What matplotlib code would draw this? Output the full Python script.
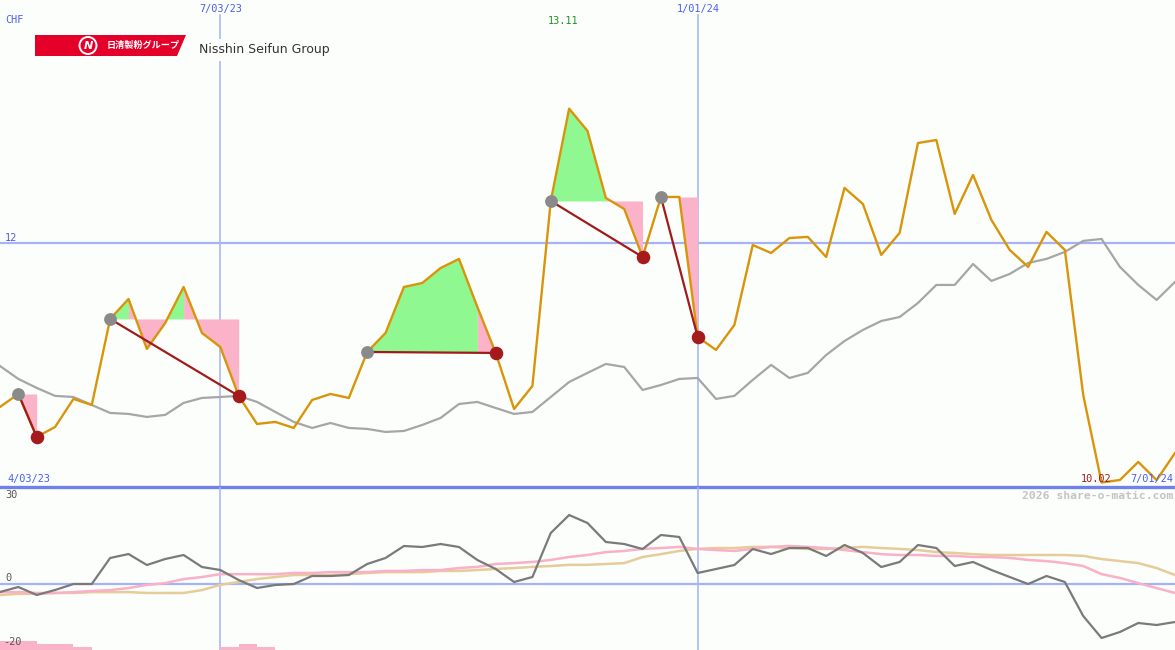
import matplotlib
matplotlib.use("Agg")
import matplotlib.pyplot as plt
from matplotlib.patches import Polygon, Ellipse

# ---------------- data ----------------
week_labels = ["4/03/23", "7/03/23", "1/01/24", "7/01/24"]
marker_weeks = [12, 38]          # vertical date lines (week index)
currency = "CHF"
level_main = 12
max_label = "13.11"
min_label = "10.02"

price = [10.645, 10.752, 10.397, 10.479, 10.711, 10.661, 11.372, 11.537, 11.124, 11.339,
         11.636, 11.256, 11.140, 10.736, 10.504, 10.521, 10.471, 10.702, 10.752, 10.719,
         11.099, 11.256, 11.636, 11.669, 11.793, 11.868, 11.471, 11.091, 10.628, 10.818,
         12.347, 13.110, 12.926, 12.372, 12.281, 11.884, 12.380, 12.380, 11.223, 11.116,
         11.322, 11.983, 11.917, 12.041, 12.050, 11.884, 12.455, 12.322, 11.901, 12.083,
         12.826, 12.851, 12.240, 12.562, 12.190, 11.942, 11.802, 12.091, 11.942, 10.744,
         10.020, 10.041, 10.190, 10.040, 10.264]

moving_avg = [10.983, 10.876, 10.802, 10.736, 10.727, 10.661, 10.595, 10.587, 10.562, 10.579,
              10.678, 10.719, 10.727, 10.736, 10.686, 10.603, 10.521, 10.471, 10.512, 10.471,
              10.463, 10.438, 10.446, 10.496, 10.554, 10.669, 10.686, 10.636, 10.587, 10.603,
              10.727, 10.851, 10.926, 11.000, 10.975, 10.785, 10.826, 10.876, 10.884, 10.711,
              10.736, 10.868, 10.992, 10.884, 10.926, 11.074, 11.190, 11.281, 11.355, 11.388,
              11.504, 11.653, 11.653, 11.826, 11.686, 11.744, 11.835, 11.868, 11.926, 12.017,
              12.033, 11.802, 11.653, 11.529, 11.678]

trade_entries = [1, 6, 20, 30, 36]
trade_exits = [2, 13, 27, 35, 38]

momentum = [-2.76, -1.03, -3.79, -2.07, 0.0, 0.0, 8.97, 10.34, 6.55, 8.62,
            10.0, 5.86, 4.83, 1.38, -1.38, -0.34, 0.0, 2.76, 2.76, 3.10,
            6.90, 8.97, 13.10, 12.76, 13.79, 12.76, 8.28, 5.17, 0.69, 2.41,
            17.59, 23.79, 21.03, 14.48, 13.79, 12.07, 16.90, 16.21, 3.79, 5.17,
            6.55, 12.07, 10.34, 12.41, 12.41, 9.66, 13.45, 10.69, 5.86, 7.59,
            13.45, 12.41, 6.21, 7.59, 4.83, 2.41, 0.0, 2.76, 0.69, -11.03,
            -18.62, -16.55, -13.45, -14.14, -13.10]

mom_fast = [-2.8, -2.8, -3.1, -3.1, -2.8, -2.4, -2.1, -1.4, -0.3, 0.3,
            1.7, 2.4, 3.4, 3.4, 3.4, 3.4, 3.8, 3.8, 4.1, 4.1,
            4.1, 4.5, 4.5, 4.8, 4.8, 5.5, 5.9, 6.9, 7.2, 7.6,
            8.3, 9.3, 10.0, 11.0, 11.4, 12.1, 12.4, 12.8, 12.1, 11.7,
            11.4, 12.1, 12.8, 13.1, 12.8, 12.4, 11.7, 11.0, 10.3, 10.0,
            10.0, 9.7, 9.7, 9.3, 9.3, 9.0, 8.3, 7.9, 7.2, 6.2,
            3.4, 2.1, 0.3, -1.4, -3.1]

mom_slow = [-3.8, -3.4, -3.4, -3.1, -3.1, -2.8, -2.8, -2.8, -3.1, -3.1,
            -3.1, -2.1, -0.3, 0.7, 1.7, 2.4, 3.1, 3.1, 3.1, 3.4,
            3.8, 4.1, 4.1, 4.1, 4.5, 4.5, 4.8, 5.2, 5.5, 5.9,
            6.2, 6.6, 6.6, 6.9, 7.2, 9.3, 10.3, 11.4, 12.1, 12.4,
            12.4, 12.8, 12.8, 12.4, 12.1, 12.1, 12.4, 12.8, 12.4, 12.1,
            11.7, 11.0, 10.7, 10.3, 10.0, 10.0, 10.0, 10.0, 10.0, 9.7,
            8.6, 7.9, 7.2, 5.5, 3.1]

bar_start = [0, 2, 4, 12, 13, 14]
bar_end = [2, 4, 5, 13, 14, 15]
bar_height = [3.1, 2.1, 1.0, 1.0, 2.1, 1.0]

lower_ticks = ["30", "0", "-20"]

# ---------------- styling ----------------
W, H = 1175, 650
BG = "#fcfefc"
BLUE_LIGHT = "#a3b3f3"
BLUE_DARK = "#7082ea"
LABEL_BLUE = "#4a5ef0"
ORANGE = "#d9950a"
GREEN_FILL = "#90f890"
PINK_FILL = "#fbb3c9"
MONO = "DejaVu Sans Mono"

fig = plt.figure(figsize=(W / 100, H / 100), dpi=100, facecolor=BG)

def fx(x):
    return x / W

def fy(y):
    return 1 - y / H

main_top, main_bot = 0, 487
ax = fig.add_axes([0, fy(main_bot), 1, (main_bot - main_top) / H])
ax2 = fig.add_axes([0, 0, 1, (H - main_bot) / H])
for a in (ax, ax2):
    a.set_facecolor(BG)
    a.set_axis_off()
    a.set_xlim(0, len(price) - 1)

ax.set_ylim(9.983, 14.008)
ax2.set_ylim(-22.76, 33.45)

x = list(range(len(price)))

# grid lines
ax.axhline(level_main, color=BLUE_LIGHT, lw=1.6, zorder=1)
for wk in marker_weeks:
    ax.axvline(wk, ymin=0, ymax=(main_bot - 15) / main_bot, color=BLUE_LIGHT, lw=1.1, zorder=1)
    ax2.axvline(wk, color=BLUE_LIGHT, lw=1.1, zorder=1)
ax2.axhline(0, color=BLUE_LIGHT, lw=1.6, zorder=1)
ax.axhline(ax.get_ylim()[0], color=BLUE_DARK, lw=2.4, zorder=6, clip_on=False)

# trade fills: segments coloured by whether they end above (green) or below (pink) the entry level,
# consecutive segments of the same colour merged into one polygon
for a_i, b_i in zip(trade_entries, trade_exits):
    lvl = price[a_i]
    runs = []
    for i in range(a_i, b_i):
        col = GREEN_FILL if price[i + 1] >= lvl else PINK_FILL
        if runs and runs[-1][0] == col:
            runs[-1][2] = i + 1
        else:
            runs.append([col, i, i + 1])
    for col, s, e in runs:
        ax.fill_between(x[s:e + 1], price[s:e + 1], lvl, color=col, lw=0, zorder=2)

# moving average and price
ax.plot(x, moving_avg, color="#a6a6a6", lw=1.6, zorder=3)
ax.plot(x, price, color=ORANGE, lw=1.7, zorder=4)

# trade lines and markers
for a_i, b_i in zip(trade_entries, trade_exits):
    ax.plot([a_i, b_i], [price[a_i], price[b_i]], color="#a01c1c", lw=1.6, zorder=5)
ax.scatter([x[i] for i in trade_entries], [price[i] for i in trade_entries],
           s=85, color="#8a8a8a", zorder=6, lw=0)
ax.scatter([x[i] for i in trade_exits], [price[i] for i in trade_exits],
           s=95, color="#a51a1a", zorder=6, lw=0)

# lower panel
bottom = ax2.get_ylim()[0]
ax2.bar([s for s in bar_start], bar_height, width=[e - s for s, e in zip(bar_start, bar_end)],
        bottom=bottom, align="edge", color=PINK_FILL, lw=0, zorder=2)
ax2.plot(x, mom_slow, color="#e6cc98", lw=1.8, zorder=3)
ax2.plot(x, mom_fast, color="#f9b0c8", lw=1.8, zorder=3)
ax2.plot(x, momentum, color="#7a7a7a", lw=1.6, zorder=4)

# ---------------- texts ----------------
fs = 7.4
fig.text(fx(5), fy(20), currency, color=LABEL_BLUE, fontsize=fs, family=MONO, va="center", ha="left")
fig.text(fx(221), fy(9), week_labels[1], color=LABEL_BLUE, fontsize=fs, family=MONO, va="center", ha="center")
fig.text(fx(698), fy(9), week_labels[2], color=LABEL_BLUE, fontsize=fs, family=MONO, va="center", ha="center")
fig.text(fx(563), fy(21), max_label, color="#229022", fontsize=fs, family=MONO, va="center", ha="center")
fig.text(fx(5), fy(238), str(level_main), color=LABEL_BLUE, fontsize=fs, family=MONO, va="center", ha="left")
fig.text(fx(7), fy(479), week_labels[0], color=LABEL_BLUE, fontsize=fs, family=MONO, va="center", ha="left")
fig.text(fx(1111), fy(479), min_label, color="#a01c1c", fontsize=fs, family=MONO, va="center", ha="right")
fig.text(fx(1173), fy(479), week_labels[3], color=LABEL_BLUE, fontsize=fs, family=MONO, va="center", ha="right")
fig.text(fx(1173), fy(496), "2026 share-o-matic.com", color="#c4c4c4", fontsize=8.2, family=MONO,
         fontweight="bold", va="center", ha="right")
fig.text(fx(5), fy(495), lower_ticks[0], color="#555555", fontsize=fs, family=MONO, va="center", ha="left")
fig.text(fx(5), fy(578), lower_ticks[1], color="#555555", fontsize=fs, family=MONO, va="center", ha="left")
fig.text(fx(3), fy(642), lower_ticks[2], color="#555555", fontsize=fs, family=MONO, va="center", ha="left")

# logo banner
banner = Polygon([(fx(35), fy(35)), (fx(186), fy(35)), (fx(177), fy(56)), (fx(35), fy(56))],
                 closed=True, transform=fig.transFigure, facecolor="#e5002a", edgecolor="none", zorder=10)
fig.patches.append(banner)
ring = Ellipse((fx(88), fy(45.5)), 17 / W, 17 / H, transform=fig.transFigure, facecolor="#e5002a",
               edgecolor="white", lw=1.4, zorder=11)
fig.patches.append(ring)
fig.text(fx(88), fy(46), "N", color="white", fontsize=8.0, fontweight="bold", fontstyle="italic",
         family="DejaVu Sans", ha="center", va="center", zorder=12)
fig.text(fx(107), fy(45.5), "日清製粉グループ", color="white", fontsize=6.6, fontweight="bold",
         family=["Noto Sans CJK JP", "DejaVu Sans"], ha="left", va="center", zorder=12)
fig.text(fx(199), fy(50), "Nisshin Seifun Group", color="#333333", fontsize=9.0,
         family="DejaVu Sans", ha="left", va="center", zorder=12,
         bbox=dict(facecolor=BG, edgecolor="none", pad=3.0))

fig.savefig("out.png", dpi=100, facecolor=BG)
